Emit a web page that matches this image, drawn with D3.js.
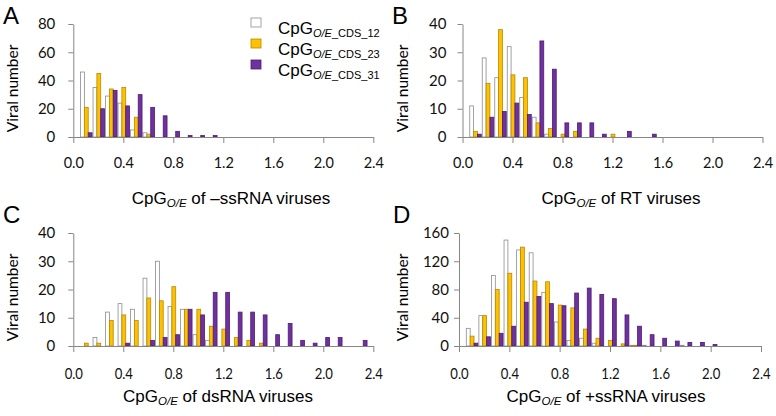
<!DOCTYPE html>
<html>
<head>
<meta charset="utf-8">
<script src="https://cdn.jsdelivr.net/npm/d3@7"></script>
<style>
  body { margin: 0; background: #fff; }
  svg { display: block; }
</style>
</head>
<body>
<svg id="chart" width="776" height="416"></svg>
<script>
// bin centres (CpG O/E)
const bins = [0.1, 0.2, 0.3, 0.4, 0.5, 0.6, 0.7, 0.8, 0.9, 1.0, 1.1, 1.2,
              1.3, 1.4, 1.5, 1.6, 1.7, 1.8, 1.9, 2.0, 2.1, 2.2, 2.3, 2.4];
const seriesKeys = ["CDS_12", "CDS_23", "CDS_31"];
const xTicks = [0, 0.4, 0.8, 1.2, 1.6, 2.0, 2.4];

// A: -ssRNA viruses
const negSs12 = [46, 35, 29, 24, 5, 3, 0, 0, 0, 0, 0, 0, 0, 0, 0, 0, 0, 0, 0, 0, 0, 0, 0, 0];
const negSs23 = [21, 45, 34, 35, 14, 2, 0, 0, 0, 0, 0, 0, 0, 0, 0, 0, 0, 0, 0, 0, 0, 0, 0, 0];
const negSs31 = [3, 20, 33, 22, 30, 21, 15, 4, 1, 1, 1, 0, 0, 0, 0, 0, 0, 0, 0, 0, 0, 0, 0, 0];
// B: RT viruses
const rt12 = [11, 28, 21, 32, 14, 7, 1, 0, 0, 0, 0, 0, 0, 0, 0, 0, 0, 0, 0, 0, 0, 0, 0, 0];
const rt23 = [2, 19, 38, 22, 21, 5, 3, 1, 2, 0, 0, 1, 0, 0, 0, 0, 0, 0, 0, 0, 0, 0, 0, 0];
const rt31 = [1, 7, 9, 12, 8, 34, 24, 5, 5, 5, 1, 0, 2, 0, 1, 0, 0, 0, 0, 0, 0, 0, 0, 0];
// C: dsRNA viruses
const ds12 = [0, 3, 12, 15, 13, 24, 30, 14, 13, 4, 2, 0, 0, 0, 0, 0, 0, 0, 0, 0, 0, 0, 0, 0];
const ds23 = [1, 1, 9, 11, 9, 17, 16, 21, 13, 13, 7, 6, 3, 2, 1, 0, 0, 0, 0, 0, 0, 0, 0, 0];
const ds31 = [0, 0, 0, 1, 0, 2, 3, 4, 13, 11, 19, 19, 12, 12, 11, 4, 8, 2, 1, 3, 3, 0, 2, 0];
// D: +ssRNA viruses
const posSs12 = [25, 43, 100, 150, 136, 132, 76, 34, 8, 11, 4, 0, 0, 1, 1, 0, 0, 1, 0, 0, 0, 0, 0, 0];
const posSs23 = [14, 43, 80, 103, 140, 92, 91, 58, 54, 24, 11, 8, 3, 1, 0, 0, 0, 0, 0, 0, 0, 0, 0, 0];
const posSs31 = [4, 13, 18, 28, 62, 70, 60, 57, 75, 82, 73, 67, 44, 28, 16, 11, 7, 5, 5, 2, 0, 0, 0, 0];

const fills = { CDS_12: "#ffffff", CDS_23: "#ffc000", CDS_31: "#7030a0" };
const strokes = { CDS_12: "#8c8c8c", CDS_23: "#b58a00", CDS_31: "#4a1f6e" };

const tickFont = "Lato, 'Open Sans', sans-serif";
const textFont = "'Liberation Sans', Arial, sans-serif";

const panels = [
  { letter: "A", title: "of \u2013ssRNA viruses", series: [negSs12, negSs23, negSs31],
    yMax: 80, yStep: 20, left: 73.3, right: 373.3, top: 24, bottom: 137,
    letterX: 3, letterY: 24, ylabX: 13, titleX: 231, titleY: 204, yPad: 13, narrow: false },
  { letter: "B", title: "of RT viruses", series: [rt12, rt23, rt31],
    yMax: 40, yStep: 10, left: 462.5, right: 762.5, top: 24, bottom: 137,
    letterX: 392, letterY: 24, ylabX: 403, titleX: 621, titleY: 204, yPad: 11, narrow: false },
  { letter: "C", title: "of dsRNA viruses", series: [ds12, ds23, ds31],
    yMax: 40, yStep: 10, left: 73.3, right: 373.3, top: 233, bottom: 346,
    letterX: 3, letterY: 223, ylabX: 13, titleX: 218, titleY: 402, yPad: 13, narrow: true },
  { letter: "D", title: "of +ssRNA viruses", series: [posSs12, posSs23, posSs31],
    yMax: 160, yStep: 40, left: 459, right: 761, top: 233, bottom: 346,
    letterX: 393, letterY: 223, ylabX: 403, titleX: 606, titleY: 402, yPad: 5, narrow: true }
];

const svg = d3.select("#chart");

panels.forEach(function(p) {
  const x = d3.scaleLinear().domain([0, 2.4]).range([p.left, p.right]);
  const y = d3.scaleLinear().domain([0, p.yMax]).range([p.bottom, p.top]);
  const binW = x(0.1) - x(0);
  const sub = d3.scaleBand().domain(seriesKeys)
    .range([-binW * 0.46, binW * 0.46]).padding(0);

  const g = svg.append("g");

  // bars
  seriesKeys.forEach(function(key, si) {
    const vals = p.series[si];
    g.selectAll(".bar-" + key)
      .data(bins.map(function(b, i) { return { bin: b, value: vals[i] }; })
                .filter(function(d) { return d.value > 0; }))
      .enter().append("rect")
      .attr("x", function(d) { return x(d.bin) + 0.5 + sub(key); })
      .attr("width", sub.bandwidth())
      .attr("y", function(d) { return y(d.value); })
      .attr("height", function(d) { return y(0) - y(d.value); })
      .style("fill", fills[key])
      .style("stroke", strokes[key])
      .style("stroke-width", 0.8);
  });

  // axes
  const xAxis = g.append("g")
    .attr("transform", "translate(0," + p.bottom + ")")
    .call(d3.axisBottom(x).tickValues(xTicks).tickFormat(d3.format(".1f"))
      .tickSize(6).tickSizeOuter(0).tickPadding(p.narrow ? 16 : 15));
  const yAxis = g.append("g")
    .attr("transform", "translate(" + p.left + ",0)")
    .call(d3.axisLeft(y).tickValues(d3.range(0, p.yMax + 1, p.yStep))
      .tickSize(5).tickSizeOuter(0).tickPadding(p.yPad));

  [xAxis, yAxis].forEach(function(a) {
    a.select(".domain").attr("stroke", "#868686");
    a.selectAll(".tick line").attr("stroke", "#868686");
    a.selectAll(".tick text").attr("fill", "#111").style("font-family", tickFont);
  });
  if (p.narrow) {
    // lower panels use a squeezed tick font in the original
    xAxis.selectAll(".tick text").style("font-size", "16px")
      .attr("transform", "scale(0.82,1)");
  } else {
    xAxis.selectAll(".tick text").style("font-size", "14.5px");
  }
  yAxis.selectAll(".tick text").style("font-size", "15px");

  // panel letter
  svg.append("text").attr("x", p.letterX).attr("y", p.letterY)
    .style("font-family", textFont).style("font-size", "24px")
    .text(p.letter);

  // y label
  svg.append("text")
    .attr("transform", "translate(" + (p.ylabX + 5) + "," + ((p.top + p.bottom) / 2 + 8) + ") rotate(-90)")
    .attr("text-anchor", "middle")
    .style("font-family", tickFont).style("font-size", "15.5px")
    .text("Viral number");

  // x title
  const t = svg.append("text").attr("x", p.titleX).attr("y", p.titleY)
    .attr("text-anchor", "middle")
    .style("font-family", textFont).style("font-size", "17px");
  t.append("tspan").text("CpG");
  t.append("tspan").attr("dy", 3).style("font-size", "11.5px").style("font-style", "italic").text("O/E");
  t.append("tspan").attr("dy", -3).text(" " + p.title);
});

// legend
const legend = svg.append("g").attr("transform", "translate(251,18)");
seriesKeys.forEach(function(key, i) {
  const row = legend.append("g").attr("transform", "translate(0," + (i * 21) + ")");
  row.append("rect").attr("width", 10).attr("height", 9)
    .style("fill", fills[key]).style("stroke", strokes[key]).style("stroke-width", 0.8);
  const txt = row.append("text").attr("x", 27).attr("y", 16)
    .style("font-family", textFont).style("font-size", "17px");
  txt.append("tspan").text("CpG");
  txt.append("tspan").attr("dy", 3).style("font-size", "11px").style("font-style", "italic").text("O/E");
  txt.append("tspan").style("font-size", "11px").text("_" + key);
});
</script>
</body>
</html>
